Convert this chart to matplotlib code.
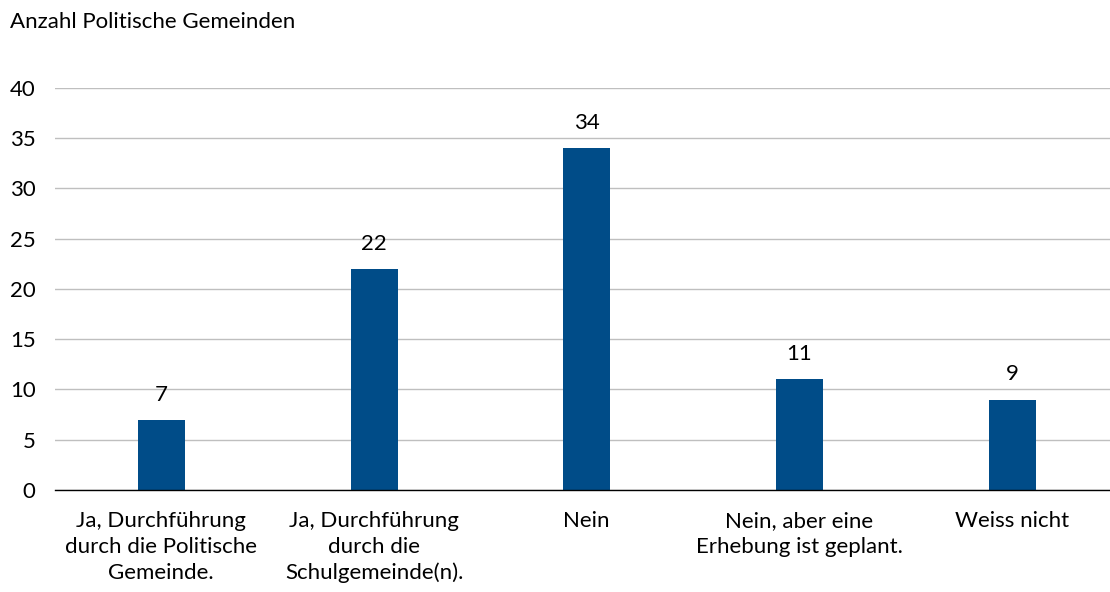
import matplotlib
matplotlib.use("Agg")
import matplotlib.pyplot as plt
import numpy as np

plt.rcParams["font.family"] = ["Lato", "DejaVu Sans"]

# Data
categories = [
    "Ja, Durchführung\ndurch die Politische\nGemeinde.",
    "Ja, Durchführung\ndurch die\nSchulgemeinde(n).",
    "Nein",
    "Nein, aber eine\nErhebung ist geplant.",
    "Weiss nicht",
]
values = [7, 22, 34, 11, 9]
y_ticks = [0, 5, 10, 15, 20, 25, 30, 35, 40]

fig = plt.figure(figsize=(11.1, 5.92), dpi=100)
ax = fig.add_axes([0.0495, 0.1723, 0.9505, 0.6791])

x = np.arange(len(categories))
bars = ax.bar(x, values, width=0.221, color="#004C88", zorder=3)

for bar, v in zip(bars, values):
    ax.text(bar.get_x() + bar.get_width() / 2, v + 1.5, str(v),
            ha="center", va="bottom", fontsize=16, color="#000000")

ax.set_xlim(-0.5, len(categories) - 0.54)
ax.set_ylim(0, 40)
ax.set_yticks(y_ticks)
ax.set_xticks(x)
ax.set_xticklabels(categories, fontsize=16, linespacing=1.37)
ax.tick_params(axis="y", labelsize=16, length=0, pad=14)
ax.tick_params(axis="x", length=0, pad=15)
ax.grid(axis="y", color="#BFBFBF", linewidth=1, zorder=0)

for s in ["top", "right", "left"]:
    ax.spines[s].set_visible(False)
ax.spines["bottom"].set_color("#000000")
ax.spines["bottom"].set_linewidth(1)
ax.spines["bottom"].set_zorder(4)

fig.text(0.009, 0.962, "Anzahl Politische Gemeinden", fontsize=16,
         ha="left", va="center")

fig.savefig("out.png", dpi=100)
